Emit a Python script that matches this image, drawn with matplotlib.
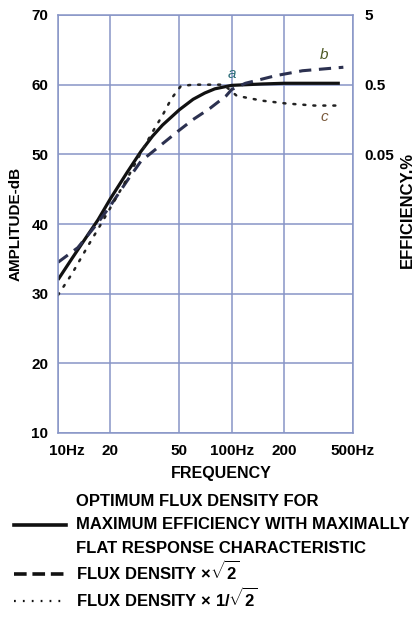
import matplotlib

matplotlib.use("Agg")
import matplotlib.pyplot as plt
import matplotlib.transforms as mtransforms
from matplotlib.lines import Line2D

plt.rcParams["font.family"] = ["Liberation Sans", "DejaVu Sans"]
plt.rcParams["mathtext.fontset"] = "custom"
plt.rcParams["mathtext.rm"] = "Liberation Sans:bold"

# curve a: optimum flux density (solid)
freq_a = [10, 12, 15, 17, 20, 25, 30, 35, 40, 50, 60, 70, 80, 100, 150, 200, 300, 420]
db_a = [32.0, 35.0, 38.6, 40.6, 43.6, 47.4, 50.4, 52.6, 54.2, 56.4, 57.9, 58.8, 59.4, 59.9, 60.1, 60.2, 60.2, 60.2]

# curve b: flux density x sqrt(2) (dashed)
freq_b = [10, 13, 17, 20, 25, 30, 39, 49, 60, 75, 93, 100, 120, 180, 256, 440]
db_b = [34.5, 36.6, 40.2, 42.6, 46.2, 49.0, 51.3, 53.3, 55.0, 56.6, 58.4, 59.3, 60.2, 61.3, 62.0, 62.5]

# curve c: flux density x 1/sqrt(2) (dotted)
freq_c = [10, 12, 15, 17.5, 20, 25, 30, 35, 40, 45, 51, 60, 70, 90, 107, 150, 206, 300, 420]
db_c = [29.8, 32.8, 37.0, 39.8, 42.3, 46.5, 50.2, 53.2, 55.6, 58.0, 59.8, 60.0, 60.0, 60.0, 58.4, 57.7, 57.3, 57.0, 57.0]

x_ticks = [10, 20, 50, 100, 200, 500]
x_labels = ["10Hz", "20", "50", "100Hz", "200", "500Hz"]
y_ticks = [10, 20, 30, 40, 50, 60, 70]
eff_ticks = [0.05, 0.5, 5]
eff_labels = ["0.05", "0.5", "5"]

legend_labels = [
    "OPTIMUM FLUX DENSITY FOR\nMAXIMUM EFFICIENCY WITH MAXIMALLY\nFLAT RESPONSE CHARACTERISTIC",
    r"FLUX DENSITY $\times\sqrt{2}$",
    r"FLUX DENSITY $\times$ 1/$\sqrt{2}$",
]

GRID = "#8795c6"
INK = "#111111"

fig = plt.figure(figsize=(4.12, 6.2), dpi=100)
ax = fig.add_axes([58 / 412, 187 / 620, 295 / 412, 418 / 620])

ax.plot(freq_a, db_a, color=INK, lw=2.3, solid_capstyle="butt")
ax.plot(freq_b, db_b, color="#2c3150", lw=2.2, dashes=(4, 2.5))
ax.plot(freq_c, db_c, color="#222222", lw=1.8, dashes=(0.8, 3.2), dash_capstyle="round")

ax.set_xscale("log")
ax.set_xlim(10, 500)
ax.set_ylim(10, 70)
ax.set_xticks(x_ticks)
ax.set_xticklabels(x_labels)
ax.minorticks_off()
ax.set_yticks(y_ticks)
ax.grid(True, color=GRID, lw=1.1)
for s in ax.spines.values():
    s.set_color(GRID)
    s.set_linewidth(1.1)
ax.tick_params(length=0, labelsize=11, pad=7)
for lab in ax.get_xticklabels() + ax.get_yticklabels():
    lab.set_fontweight("bold")
ax.tick_params(axis="x", pad=8)

# nudge the first x label off the corner
first = ax.get_xticklabels()[0]
first.set_transform(first.get_transform() + mtransforms.ScaledTranslation(9 / 100, 0, fig.dpi_scale_trans))

ax.set_xlabel("FREQUENCY", fontsize=11.5, fontweight="bold", labelpad=6, x=(221 - 58) / 295)
ax.set_ylabel("AMPLITUDE-dB", fontsize=11, fontweight="bold", labelpad=6)

ax.text(100, 60.5, "a", style="italic", color="#2f6f7a", fontsize=11, ha="center", va="bottom")
ax.text(340, 63.2, "b", style="italic", color="#4e5a25", fontsize=11, ha="center", va="bottom")
ax.text(340, 56.4, "c", style="italic", color="#7a5a3c", fontsize=11, ha="center", va="top")

# efficiency scale: 10 dB per decade, 0.5 % at 60 dB
ax2 = ax.twinx()
ax2.set_yscale("log")
ax2.set_ylim(0.5 * 10 ** ((10 - 60) / 10), 0.5 * 10 ** ((70 - 60) / 10))
ax2.set_yticks(eff_ticks)
ax2.set_yticklabels(eff_labels)
ax2.minorticks_off()
ax2.tick_params(length=0, labelsize=11, pad=8)
for lab in ax2.get_yticklabels():
    lab.set_fontweight("bold")
for s in ax2.spines.values():
    s.set_visible(False)
fig.text(407 / 412, 1 - 210 / 620, "EFFICIENCY,%", rotation=90, fontsize=12,
         fontweight="bold", ha="center", va="center")

handles = [
    Line2D([], [], color=INK, lw=2.6),
    Line2D([], [], color=INK, lw=2.6, dashes=(3.5, 1.6)),
    Line2D([], [], color=INK, lw=1.6, dashes=(0.8, 3.2)),
]
leg = fig.legend(handles, legend_labels, loc="upper left", bbox_to_anchor=(14 / 412, 1 - 494 / 620),
                 frameon=False, handlelength=3.1, handletextpad=0.65,
                 labelspacing=0.25, borderpad=0, borderaxespad=0,
                 prop={"weight": "bold", "size": 12})
for t in leg.get_texts():
    t.set_linespacing(1.7)

fig.savefig("out.png", dpi=100)
